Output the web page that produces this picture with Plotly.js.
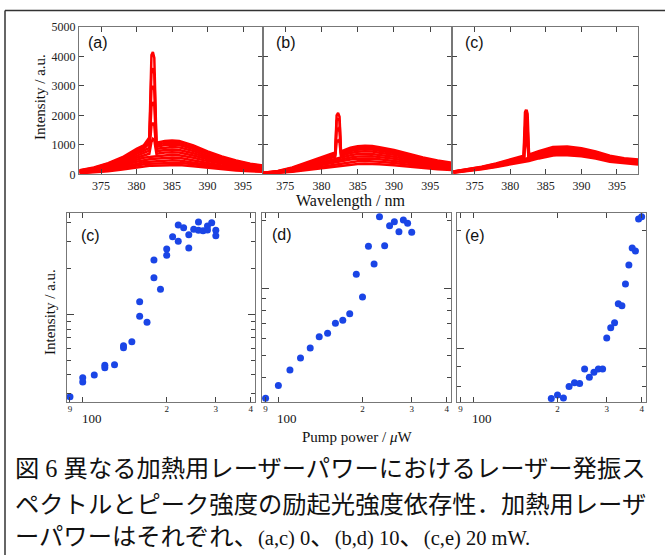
<!DOCTYPE html>
<html><head><meta charset="utf-8">
<script src="https://cdn.plot.ly/plotly-3.0.1.min.js"></script>
<style>html,body{margin:0;padding:0;background:#fff}</style>
</head><body><div id="chart" style="width:665px;height:555px"></div>
<script>
// ---------- spectra (a): pump 0 mW heating ----------
const wlA = [372, 374, 376, 378, 380, 381, 381.8, 382.1, 382.3, 382.5, 382.8, 384, 385, 386, 388, 390, 392, 394, 396, 398];
const spectraA = [
  [39, 64, 106, 161, 239, 272, 286, 290, 292, 294, 297, 314, 320, 314, 272, 217, 170, 131, 100, 81],
  [49, 80, 132, 202, 299, 341, 358, 362, 365, 368, 372, 393, 400, 393, 341, 271, 212, 164, 125, 101],
  [58, 96, 158, 242, 359, 409, 430, 434, 438, 442, 446, 471, 480, 471, 409, 325, 254, 196, 150, 121],
  [69, 114, 188, 288, 427, 486, 511, 516, 520, 525, 531, 560, 570, 560, 486, 387, 303, 233, 179, 144],
  [80, 132, 218, 333, 494, 563, 591, 597, 602, 608, 614, 649, 660, 649, 563, 448, 350, 270, 207, 166],
  [91, 150, 248, 378, 561, 639, 700, 1100, 1200, 1150, 698, 737, 750, 737, 639, 509, 398, 306, 235, 189],
  [102, 168, 277, 424, 628, 715, 800, 1650, 1750, 1650, 781, 825, 840, 825, 715, 570, 445, 343, 263, 212],
  [113, 186, 307, 469, 696, 793, 900, 2300, 2450, 2350, 866, 914, 930, 914, 793, 631, 493, 380, 291, 235],
  [123, 202, 334, 509, 755, 860, 1050, 2900, 3000, 2850, 939, 992, 1010, 992, 860, 685, 536, 412, 316, 255],
  [131, 216, 357, 545, 808, 920, 1150, 3500, 3600, 3400, 1005, 1061, 1080, 1061, 920, 732, 573, 441, 338, 272],
  [140, 230, 380, 580, 860, 980, 1250, 4050, 4150, 3950, 1070, 1130, 1150, 1130, 980, 780, 610, 470, 360, 290]
];
// ---------- spectra (b): 10 mW ----------
const wlB = [372, 374, 376, 378, 380, 381, 381.9, 382.1, 382.3, 382.5, 382.7, 384, 385, 386, 387, 388, 390, 392, 394, 396, 398];
const spectraB = [
  [20, 41, 85, 148, 214, 244, 274, 280, 283, 285, 289, 333, 353, 360, 355, 339, 307, 259, 211, 174, 146],
  [25, 51, 106, 185, 267, 305, 342, 349, 353, 356, 361, 416, 442, 450, 444, 423, 384, 324, 264, 217, 183],
  [31, 61, 128, 222, 321, 366, 411, 419, 423, 427, 433, 500, 530, 540, 533, 508, 461, 389, 316, 261, 219],
  [35, 70, 147, 255, 368, 420, 471, 480, 486, 491, 497, 573, 608, 620, 612, 583, 529, 446, 363, 299, 252],
  [40, 79, 165, 288, 416, 475, 532, 542, 548, 554, 561, 647, 687, 700, 690, 658, 597, 503, 410, 338, 284],
  [44, 88, 184, 321, 463, 529, 593, 1100, 1150, 1080, 625, 722, 766, 780, 770, 734, 666, 561, 457, 377, 317],
  [48, 96, 201, 350, 505, 577, 647, 1480, 1550, 1450, 682, 787, 835, 850, 839, 800, 725, 612, 498, 411, 345],
  [51, 103, 215, 374, 540, 617, 692, 1820, 1900, 1800, 729, 842, 893, 910, 898, 856, 776, 655, 533, 440, 369],
  [55, 110, 230, 400, 578, 660, 740, 2000, 2080, 1950, 780, 900, 955, 973, 960, 915, 830, 700, 570, 470, 395]
];
// ---------- spectra (c): 20 mW ----------
const wlC = [372, 374, 376, 378, 380, 381, 381.9, 382.1, 382.25, 382.4, 382.6, 384, 386, 387, 388, 390, 392, 394, 396, 398];
const spectraC = [
  [63, 112, 176, 253, 337, 393, 435, 442, 446, 450, 463, 548, 646, 660, 656, 618, 541, 435, 379, 344],
  [69, 123, 192, 276, 368, 429, 475, 483, 487, 491, 506, 597, 705, 720, 716, 674, 590, 475, 414, 375],
  [75, 133, 208, 299, 398, 465, 515, 523, 528, 532, 548, 647, 764, 780, 776, 730, 639, 515, 448, 407],
  [80, 143, 224, 322, 429, 501, 554, 1150, 1200, 1120, 590, 697, 822, 840, 836, 787, 688, 554, 483, 438],
  [85, 152, 237, 341, 455, 530, 587, 1600, 1650, 1550, 625, 739, 871, 890, 885, 833, 729, 587, 511, 464],
  [90, 160, 250, 360, 480, 560, 620, 2100, 2190, 2050, 660, 780, 920, 940, 935, 880, 770, 620, 540, 490]
];
const wlTicks = [375, 380, 385, 390, 395];
const intTicks = [0, 1000, 2000, 3000, 4000, 5000];

// ---------- peak intensity vs pump power ----------
const pumpC = [90,100,100,110,120,120,130,140,140,150,160,160,170,180,180,190,200,200,210,220,220,230,240,240,250,260,260,270,280,280,290,300,300];
const peakC = [287,383,359,399,462,445,466,621,603,660,1210,970,886,2276,1741,1460,2690,2444,3240,3870,3020,3713,3340,2730,3624,4048,3569,3548,3810,3590,4006,3569,3288];
const pumpD = [90,100,110,120,130,140,150,160,170,180,190,200,210,220,230,240,250,260,270,280,290,300];
const peakD = [324,369,433,490,543,609,631,699,721,771,1154,915,1537,1282,2080,1546,1897,1977,1785,2012,1944,1774];
const pumpE = [190,200,210,220,230,240,250,260,270,280,290,300,310,320,330,340,350,360,370,380,390,400];
const peakE = [744,759,746,799,816,813,886,843,869,886,885,1063,1129,1163,1301,1286,1462,1635,1808,1776,2145,2175];
const pumpTicks = [90, 100, 200, 300, 400];
const pumpTickText = ['9', '', '2', '3', '4'];

const panelLabelsTop = ['(a)', '(b)', '(c)'];
const panelLabelsBottom = ['(c)', '(d)', '(e)'];
const LAT = '<span style="font-size:20.5px">';
const captionLines = [
  '図 6 異なる加熱用レーザーパワーにおけるレーザー発振ス',
  'ペクトルとピーク強度の励起光強度依存性．加熱用レーザ',
  'ーパワーはそれぞれ、' + LAT + '(a,c) 0</span>、' + LAT + '(b,d) 10</span>、' + LAT + '(c,e) 20 mW.</span>'
];

// ---------- build ----------
const W = 665, H = 555;
const px = v => v / W;
const py = v => 1 - v / H;
const RED = '#ff0000', BLUE = '#1a45e6';
const SERIF = 'Liberation Serif, Times New Roman, serif';

const traces = [];
function addSpectra(wl, list, ax, w) {
  list.forEach(s => traces.push({x: wl, y: s, xaxis: 'x' + ax, yaxis: 'y' + ax, type: 'scatter', mode: 'lines',
    line: {color: RED, width: w}, hoverinfo: 'skip', showlegend: false}));
}
addSpectra(wlA, spectraA, '', 2.5);
addSpectra(wlB, spectraB, '2', 2.5);
addSpectra(wlC, spectraC, '3', 3);
function addPeaks(xs, ys, ax) {
  traces.push({x: xs, y: ys, xaxis: 'x' + ax, yaxis: 'y' + ax, type: 'scatter', mode: 'markers', cliponaxis: false,
    marker: {color: BLUE, size: 7}, hoverinfo: 'skip', showlegend: false});
}
addPeaks(pumpC, peakC, '4');
addPeaks(pumpD, peakD, '5');
addPeaks(pumpE, peakE, '6');

const frameCol = '#777', tickCol = '#444';
function topX(d0, d1, range, anchor) {
  return {domain: [px(d0), px(d1)], range: range, anchor: anchor, tickvals: wlTicks, ticks: 'inside', ticklen: 5,
    tickcolor: tickCol, mirror: 'allticks', showline: true, linecolor: frameCol, linewidth: 1, showgrid: false, zeroline: false,
    tickfont: {family: SERIF, size: 12, color: '#222'}};
}
function topY(anchor, labels) {
  return {domain: [py(174.3), py(27)], range: [0, 5000], anchor: anchor, tickvals: intTicks, ticks: 'inside', ticklen: 5,
    tickcolor: tickCol, mirror: 'allticks', showline: true, linecolor: frameCol, linewidth: 1, showgrid: false, zeroline: false,
    showticklabels: labels, tickfont: {family: SERIF, size: 12, color: '#222'}};
}
function botX(d0, d1, anchor) {
  return {domain: [px(d0), px(d1)], type: 'log', range: [1.9425, 2.6176], anchor: anchor, tickvals: pumpTicks, ticktext: pumpTickText,
    ticks: 'inside', ticklen: 5, tickcolor: tickCol, mirror: 'allticks', showline: true, linecolor: frameCol, linewidth: 1,
    showgrid: false, zeroline: false, ticklabelstandoff: -2, tickfont: {family: SERIF, size: 9, color: '#222'}};
}
function botY(range, minorVals, anchor) {
  return {domain: [py(401.7), py(213.3)], type: 'log', range: range, anchor: anchor, tickvals: [1000], ticks: 'inside', ticklen: 7,
    tickcolor: tickCol, mirror: 'allticks', showline: true, linecolor: frameCol, linewidth: 1, showgrid: false, zeroline: false,
    showticklabels: false,
    minor: {tickvals: minorVals, ticks: 'inside', ticklen: 4, tickcolor: tickCol, showgrid: false}};
}

const annotations = [];
function ann(text, x, y, size, opts) {
  annotations.push(Object.assign({text: text, xref: 'paper', yref: 'paper', x: px(x), y: py(y), showarrow: false,
    font: {family: SERIF, size: size, color: '#111'}, xanchor: 'center', yanchor: 'middle'}, opts || {}));
}
ann('Intensity / a.u.', 40, 97, 15, {textangle: -90});
ann('Wavelength / nm', 350, 201, 16);
ann('Intensity / a.u.', 50, 312, 15, {textangle: -90});
ann('Pump power / <i>μ</i>W', 357, 437, 15);
const LBLFONT = {family: 'Liberation Sans, Arial, sans-serif', size: 16, color: '#111'};
[[98, 43], [286, 43], [474, 43]].forEach((p, i) => ann(panelLabelsTop[i], p[0], p[1], 16, {font: LBLFONT}));
[[90, 235], [282, 234], [475, 235]].forEach((p, i) => ann(panelLabelsBottom[i], p[0], p[1], 16, {font: LBLFONT}));
['4', '5', '6'].forEach(a => annotations.push({text: '100', xref: 'x' + a, yref: 'paper', x: 2, y: py(418), showarrow: false,
  font: {family: SERIF, size: 13, color: '#111'}, xanchor: 'left', yanchor: 'middle', xshift: -3}));
[468, 504, 536].forEach((y, i) => ann(captionLines[i], 13, y, 24.3, {xanchor: 'left',
  font: {family: "Liberation Serif, 'Noto Sans CJK JP', serif", size: 24.3, color: '#111'}}));

const layout = {
  width: W, height: H, margin: {l: 0, r: 0, t: 0, b: 0}, paper_bgcolor: '#fff', plot_bgcolor: '#fff', showlegend: false,
  xaxis: topX(79, 263, [371.9, 397.8], 'y'),
  yaxis: topY('x', true),
  xaxis2: topX(263, 452, [371.95, 398.0], 'y2'),
  yaxis2: topY('x2', false),
  xaxis3: topX(452, 638.3, [371.8, 398.0], 'y3'),
  yaxis3: topY('x3', false),
  xaxis4: botX(66.7, 255, 'y4'),
  yaxis4: botY([2.4249, 3.6644], [300, 400, 500, 600, 700, 800, 900, 2000, 3000, 4000], 'x4'),
  xaxis5: botX(262.3, 451, 'y5'),
  yaxis5: botY([2.4955, 3.3333], [400, 500, 600, 700, 800, 900, 2000], 'x5'),
  xaxis6: botX(457.3, 646, 'y6'),
  yaxis6: botY([2.8633, 3.3462], [800, 900, 2000], 'x6'),
  annotations: annotations,
  shapes: [
    {type: 'line', xref: 'paper', yref: 'paper', x0: px(5), x1: 1.01, y0: py(10.5), y1: py(10.5), line: {color: '#333', width: 1.5}},
    {type: 'line', xref: 'paper', yref: 'paper', x0: px(5), x1: px(5), y0: py(10.5), y1: -0.01, line: {color: '#333', width: 1.5}}
  ]
};
Plotly.newPlot('chart', traces, layout, {staticPlot: true, displayModeBar: false});
</script></body></html>
